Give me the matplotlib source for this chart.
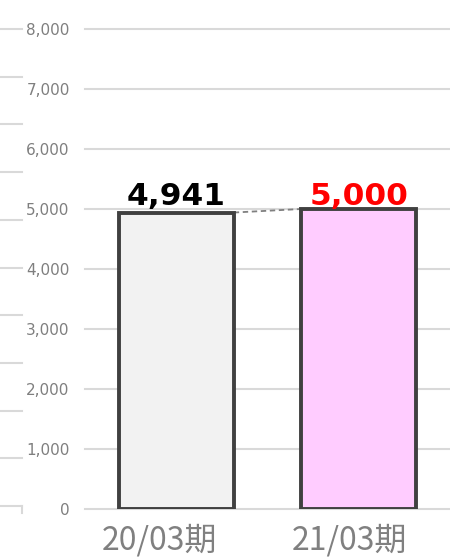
import matplotlib.pyplot as plt
from matplotlib.transforms import ScaledTranslation

# data
periods = ['20/03期', '21/03期']
values = [4941, 5000]
labels = ['4,941', '5,000']
label_colors = ['black', 'red']
bar_colors = ['#f2f2f2', '#ffccff']
yticks = [0, 1000, 2000, 3000, 4000, 5000, 6000, 7000, 8000]

W, H = 450, 559
fig = plt.figure(figsize=(W / 100, H / 100), dpi=100)

# leftover gridlines of a neighbouring chart at the left edge
side = fig.add_axes([0, 1 - 506 / H, 22 / W, 477 / H])
side.set_xlim(0, 1)
side.set_ylim(0, 10)
for k in range(11):
    side.axhline(k, color='#d9d9d9', lw=1.5, clip_on=False)
side.plot([1, 1], [0, -0.15], color='#d9d9d9', lw=1.5, clip_on=False)
side.axis('off')

ax = fig.add_axes([85 / W, 1 - 509 / H, 365 / W, 480 / H])
ax.set_xlim(-0.5, 1.5)
ax.set_ylim(0, 8000)
for t in yticks:
    ax.axhline(t, color='#d9d9d9', lw=1.5, zorder=0, clip_on=False)

w = 0.63
x = range(len(values))
ax.bar(x, values, width=w, color=bar_colors, edgecolor='#404040', linewidth=2.8, zorder=3)
ax.plot([0 + w / 2, 1 - w / 2], [values[0], values[1]], color='#808080', lw=1.3,
        ls=(0, (3, 2)), zorder=2)

# value labels sit on one common line just above the taller bar
lab_y = max(values) + 70
for i, v in enumerate(values):
    ax.text(i, lab_y, labels[i], ha='center', va='baseline', fontsize=22.5,
            fontweight='bold', color=label_colors[i], family='DejaVu Sans', zorder=4)

ax.set_yticks(yticks)
ax.set_yticklabels([f'{t:,}' for t in yticks], fontsize=11, color='#7f7f7f')
ax.set_xticks(list(x))
ax.set_xticklabels(periods, fontsize=23, color='#808080',
                   family=['Noto Sans CJK JP', 'DejaVu Sans'])
ax.tick_params(axis='y', length=0, pad=11)
ax.tick_params(axis='x', length=0, pad=11)
# category labels sit a little left of the bar centres in the original
for lbl, dx in zip(ax.get_xticklabels(), [-17, -9]):
    lbl.set_transform(lbl.get_transform() + ScaledTranslation(dx / 100, 0, fig.dpi_scale_trans))
for s in ax.spines.values():
    s.set_visible(False)

fig.savefig('out.png', dpi=100)
